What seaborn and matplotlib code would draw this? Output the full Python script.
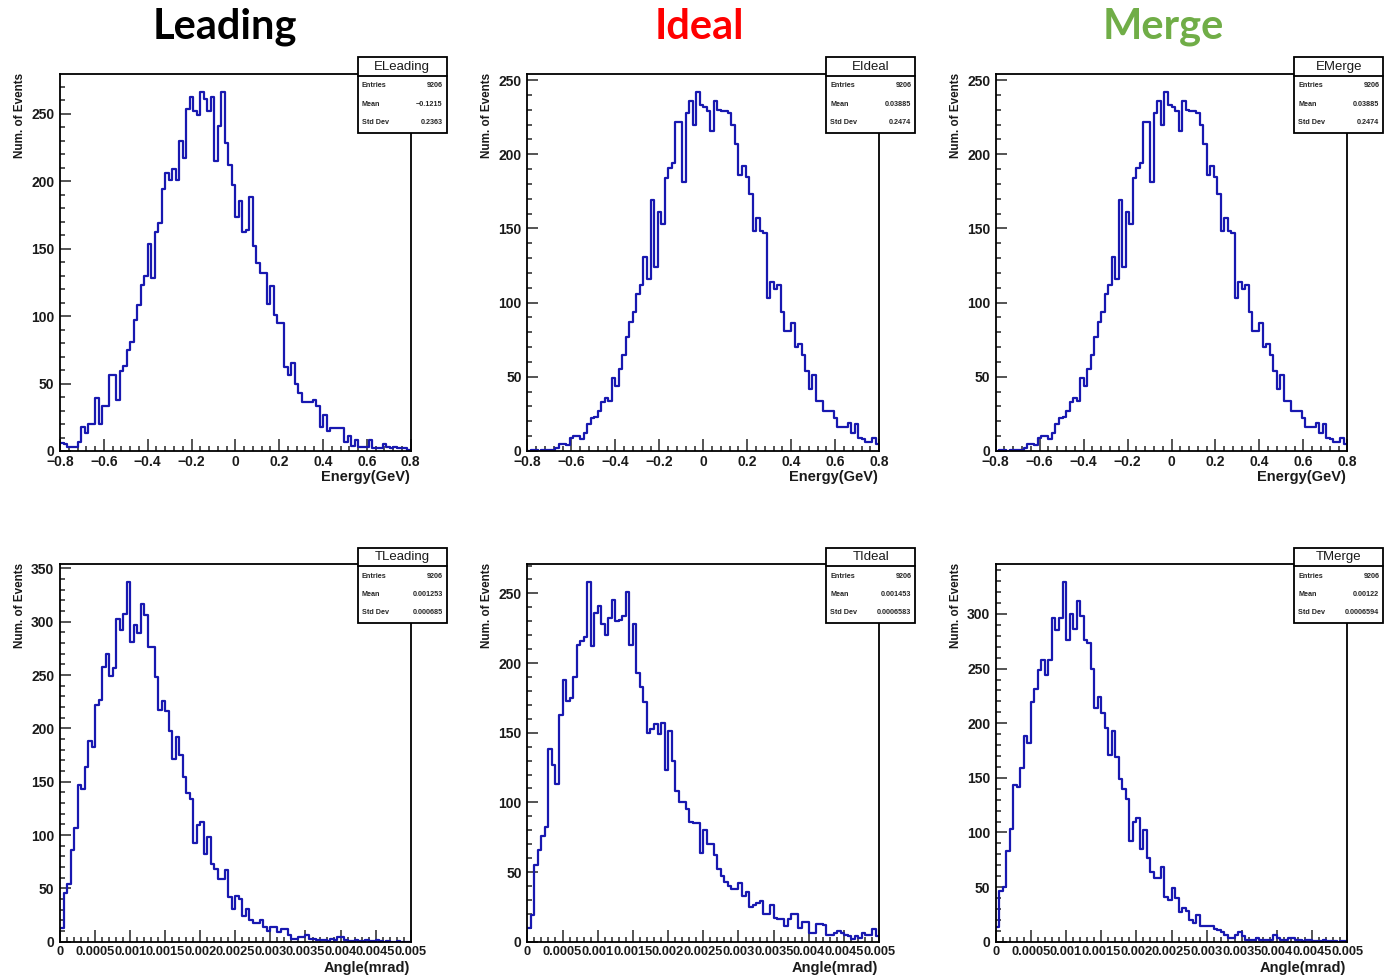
import numpy as np
import pandas as pd
import matplotlib
matplotlib.use("Agg")
import matplotlib.pyplot as plt
from matplotlib.patches import Rectangle
from matplotlib.lines import Line2D
from matplotlib.ticker import MultipleLocator, FixedLocator, FixedFormatter
import seaborn as sns

# ---------------- data (bin contents) ----------------
e_leading = [6, 5, 3, 3, 3, 7, 18, 13, 20, 20,
             39, 20, 33, 33, 56, 56, 38, 59, 63, 75,
             81, 97, 108, 123, 130, 153, 128, 162, 169, 194,
             206, 201, 209, 201, 230, 217, 253, 262, 252, 249,
             266, 261, 252, 262, 215, 241, 266, 228, 212, 197,
             173, 185, 162, 164, 188, 152, 139, 132, 132, 109,
             122, 101, 95, 95, 62, 56, 65, 50, 43, 36,
             36, 36, 38, 33, 18, 27, 15, 17, 17, 17,
             17, 7, 11, 4, 8, 3, 3, 3, 8, 2,
             2, 2, 5, 3, 2, 3, 2, 2, 2, 1]

e_ideal = [0, 1, 1, 0, 1, 1, 1, 1, 2, 5,
           5, 4, 9, 10, 10, 8, 12, 18, 22, 23,
           27, 33, 36, 34, 49, 44, 55, 65, 77, 87,
           94, 106, 112, 131, 116, 169, 124, 161, 153, 184,
           191, 194, 222, 222, 181, 228, 236, 220, 242, 233,
           232, 229, 216, 236, 230, 229, 229, 228, 220, 207,
           186, 192, 185, 173, 148, 157, 148, 147, 103, 114,
           109, 112, 94, 81, 81, 86, 70, 72, 65, 54,
           42, 51, 34, 34, 27, 27, 27, 22, 16, 16,
           16, 19, 12, 18, 9, 8, 6, 6, 9, 5]

e_merge = [0, 1, 1, 0, 1, 1, 1, 1, 2, 5,
           5, 4, 9, 10, 10, 8, 12, 18, 22, 23,
           27, 33, 36, 34, 49, 44, 55, 65, 77, 87,
           94, 106, 112, 131, 116, 169, 124, 161, 153, 184,
           191, 194, 222, 222, 181, 228, 236, 220, 242, 233,
           232, 229, 216, 236, 230, 229, 229, 228, 220, 207,
           186, 192, 185, 173, 148, 157, 148, 147, 103, 114,
           109, 112, 94, 81, 81, 86, 70, 72, 65, 54,
           42, 51, 34, 34, 27, 27, 27, 22, 16, 16,
           16, 19, 12, 18, 9, 8, 6, 6, 9, 5]

t_leading = [13, 46, 54, 86, 107, 147, 143, 164, 188, 183,
             222, 227, 258, 270, 249, 257, 303, 292, 307, 337,
             281, 297, 289, 317, 306, 276, 276, 248, 217, 226,
             216, 198, 171, 192, 175, 154, 139, 134, 93, 109,
             112, 82, 98, 73, 68, 59, 59, 67, 42, 31,
             43, 40, 24, 31, 20, 18, 18, 20, 14, 10,
             14, 14, 9, 12, 12, 6, 3, 3, 4, 4,
             6, 3, 3, 2, 2, 2, 1, 3, 2, 4,
             4, 2, 1, 1, 2, 1, 1, 2, 1, 1,
             2, 1, 0, 1, 0, 0, 1, 0, 0, 0]

t_ideal = [10, 19, 55, 66, 76, 82, 138, 127, 113, 163,
           188, 173, 175, 190, 213, 216, 219, 258, 212, 236,
           241, 228, 220, 232, 245, 230, 231, 234, 251, 213,
           228, 193, 183, 172, 150, 153, 156, 149, 157, 123,
           151, 130, 108, 100, 100, 95, 86, 85, 85, 64,
           80, 70, 70, 62, 52, 47, 43, 40, 38, 38,
           42, 33, 36, 25, 26, 28, 29, 20, 20, 26,
           17, 16, 16, 11, 16, 20, 20, 10, 14, 14,
           6, 6, 13, 13, 12, 5, 5, 6, 8, 6,
           5, 4, 2, 4, 3, 6, 5, 5, 9, 4]

t_merge = [13, 46, 50, 83, 103, 143, 142, 159, 188, 182,
           219, 231, 249, 258, 244, 258, 296, 285, 296, 329,
           276, 300, 286, 312, 298, 276, 273, 250, 214, 224,
           209, 196, 171, 193, 169, 149, 140, 131, 92, 110,
           113, 85, 102, 77, 64, 58, 58, 68, 41, 38,
           49, 40, 27, 31, 28, 20, 17, 24, 14, 14,
           14, 14, 12, 11, 9, 6, 3, 3, 6, 9,
           5, 2, 2, 2, 3, 2, 2, 2, 2, 6,
           3, 2, 2, 3, 3, 2, 2, 1, 2, 2,
           1, 1, 1, 2, 1, 1, 1, 0, 1, 1]

column_titles = ["Leading", "Ideal", "Merge"]
column_colors = ["#000000", "#ff0000", "#70ad47"]
hist_names = [["ELeading", "EIdeal", "EMerge"], ["TLeading", "TIdeal", "TMerge"]]
stat_entries = [["9206", "9206", "9206"], ["9206", "9206", "9206"]]
stat_means = [["\u22120.1215", "0.03885", "0.03885"], ["0.001253", "0.001453", "0.00122"]]
stat_stds = [["0.2363", "0.2474", "0.2474"], ["0.000685", "0.0006583", "0.0006594"]]

e_range = (-0.8, 0.8)
t_range = (0.0, 0.005)
n_bins = 100
e_ticks = [-0.8, -0.6, -0.4, -0.2, 0.0, 0.2, 0.4, 0.6, 0.8]
e_ticklabels = ["\u22120.8", "\u22120.6", "\u22120.4", "\u22120.2", "0", "0.2", "0.4", "0.6", "0.8"]
t_ticks = [0.0, 0.0005, 0.001, 0.0015, 0.002, 0.0025, 0.003, 0.0035, 0.004, 0.0045, 0.005]
t_ticklabels = ["0", "0.0005", "0.001", "0.0015", "0.002", "0.0025", "0.003",
                "0.0035", "0.004", "0.0045", "0.005"]
x_titles = ["Energy(GeV)", "Angle(mrad)"]
y_title = "Num. of Events"

# ---------------- style ----------------
sns.set_style("white")
plt.rcParams["font.family"] = ["Liberation Sans", "DejaVu Sans"]

W, H = 1386, 976
fig = plt.figure(figsize=(W / 100, H / 100), dpi=100)
fig.patch.set_facecolor("white")


def fx(x):
    return x / W


def fy(y):
    return 1 - y / H


line_color = "#1818b0"
col_left = [60, 527.3, 995.7]
col_right = [410.7, 879.3, 1347.3]
row_top = [74, 564.3]
row_bot = [451, 941.7]

data = [[e_leading, e_ideal, e_merge], [t_leading, t_ideal, t_merge]]

for r in range(2):
    lo, hi = (e_range if r == 0 else t_range)
    width = (hi - lo) / n_bins
    centers = lo + width * (np.arange(n_bins) + 0.5)
    xlab_size = 10 if r == 0 else 9.3
    for c in range(3):
        counts = np.asarray(data[r][c], dtype=float)
        df = pd.DataFrame({"center": centers, "count": counts})
        L, R, T, B = col_left[c], col_right[c], row_top[r], row_bot[r]
        ax = fig.add_axes([fx(L), fy(B), (R - L) / W, (B - T) / H])
        ax.set_facecolor("white")
        sns.histplot(data=df, x="center", weights="count", bins=n_bins,
                     binrange=(lo, hi), element="step", fill=False,
                     color=line_color, linewidth=1.6, ax=ax)
        ax.set_xlim(lo, hi)
        ax.set_ylim(0, counts.max() * 1.05)
        ax.set_xlabel("")
        ax.set_ylabel("")
        if r == 0:
            ax.xaxis.set_major_locator(FixedLocator(e_ticks))
            ax.xaxis.set_major_formatter(FixedFormatter(e_ticklabels))
            ax.xaxis.set_minor_locator(MultipleLocator(0.04))
        else:
            ax.xaxis.set_major_locator(FixedLocator(t_ticks))
            ax.xaxis.set_major_formatter(FixedFormatter(t_ticklabels))
            ax.xaxis.set_minor_locator(MultipleLocator(0.0001))
        ax.yaxis.set_major_locator(MultipleLocator(50))
        ax.yaxis.set_minor_locator(MultipleLocator(10))
        ax.tick_params(axis="x", which="major", direction="in", length=9.0,
                       width=1.1, pad=3, labelsize=xlab_size, top=False, bottom=True)
        ax.tick_params(axis="x", which="minor", direction="in", length=3.3,
                       width=1.1, top=False, bottom=True)
        ax.tick_params(axis="y", which="major", direction="in", length=7.6,
                       width=1.1, pad=4, labelsize=10, right=False, left=True)
        ax.tick_params(axis="y", which="minor", direction="in", length=3.3,
                       width=1.1, right=False, left=True)
        for lab in ax.get_xticklabels() + ax.get_yticklabels():
            lab.set_fontweight("bold")
            lab.set_color("#1a1a1a")
        for s in ax.spines.values():
            s.set_visible(True)
            s.set_color("black")
            s.set_linewidth(1.3)

        # axis titles (ROOT style)
        fig.text(fx(R - 1), fy(B + 26), x_titles[r], ha="right", va="center",
                 fontsize=10.5, fontweight="bold", color="#1a1a1a")
        fig.text(fx(L - 40), fy(T - 1), y_title, ha="center", va="top",
                 rotation=90, fontsize=8.4, fontweight="bold", color="#1a1a1a")

        # statistics box
        bl, br = R - 53, R + 36
        bt, bb = T - 16.8, T + 58.5
        sep = T + 2
        fig.patches.append(Rectangle((fx(bl), fy(bb)), (br - bl) / W, (bb - bt) / H,
                                     transform=fig.transFigure, facecolor="white",
                                     edgecolor="black", linewidth=1.3, zorder=5))
        fig.lines.append(Line2D([fx(bl), fx(br)], [fy(sep), fy(sep)],
                                transform=fig.transFigure, color="black",
                                linewidth=1.3, zorder=6))
        fig.text(fx((bl + br) / 2), fy((bt + sep) / 2 + 0.5), hist_names[r][c],
                 ha="center", va="center", fontsize=9.5, zorder=7, color="#1a1a1a")
        rows = [("Entries", stat_entries[r][c]), ("Mean", stat_means[r][c]),
                ("Std Dev", stat_stds[r][c])]
        for k, (lab, val) in enumerate(rows):
            yy = bt + 28.7 + k * 18.4
            fig.text(fx(bl + 4), fy(yy), lab, ha="left", va="center",
                     fontsize=5.2, fontweight="bold", zorder=7)
            fig.text(fx(br - 4), fy(yy), val, ha="right", va="center",
                     fontsize=5.2, fontweight="bold", zorder=7)

# column titles
title_x = [225, 699, 1163]
for c in range(3):
    fig.text(fx(title_x[c]), fy(39), column_titles[c], ha="center", va="baseline",
             fontsize=30, fontweight="bold", color=column_colors[c],
             family=["Lato", "DejaVu Sans"])

fig.savefig("out.png", dpi=100, facecolor="white")
